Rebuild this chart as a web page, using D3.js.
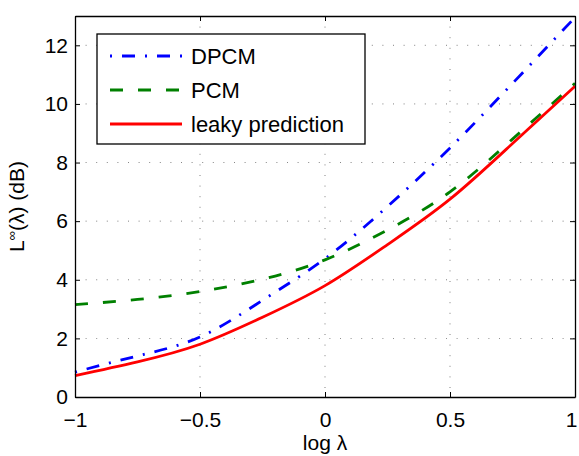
<!DOCTYPE html>
<meta charset="utf-8">
<style>
body { margin: 0; background: #fff; }
svg { font-family: "Liberation Sans", Arial, sans-serif; }
.axis text { font-size: 21px; fill: #000; }
.axis path, .axis line { stroke: #000; }
.grid line { stroke: #000; stroke-width: 0.7px; stroke-dasharray: 1,9.6; opacity: .7; }
.series { fill: none; stroke-width: 2.8px; }
</style>
<body>
<script src="https://cdn.jsdelivr.net/npm/d3@7"></script>
<script>
// values
var logLambda = [-1, -0.75, -0.5, -0.25, 0, 0.25, 0.5, 0.75, 1];
var dpcm  = [0.85, 1.4, 2.05, 3.3, 4.72, 6.5, 8.5, 10.7, 12.95];
var pcm   = [3.15, 3.33, 3.6, 4.02, 4.68, 5.7, 7.0, 8.8, 10.7];
var leaky = [0.73, 1.2, 1.8, 2.72, 3.8, 5.2, 6.75, 8.65, 10.6];
var xTicks = [-1, -0.5, 0, 0.5, 1];
var yTicks = [0, 2, 4, 6, 8, 10, 12];

var series = [
  {name: "DPCM", values: dpcm, color: "#0000ff", dash: "2,10,13,10"},
  {name: "PCM", values: pcm, color: "#008000", dash: "13,15"},
  {name: "leaky prediction", values: leaky, color: "#ff0000", dash: null}
];

var margin = {top: 16, right: 4, bottom: 59, left: 75},
    width = 579 - margin.left - margin.right,
    height = 456 - margin.top - margin.bottom;

var svg = d3.select("body").append("svg")
    .attr("width", 579)
    .attr("height", 456)
  .append("g")
    .attr("transform", "translate(" + margin.left + "," + margin.top + ")");

var x = d3.scaleLinear().domain([-1, 1]).range([0, width]);
var y = d3.scaleLinear().domain([0, 13]).range([height, 0]);

// dotted grid
var grid = svg.append("g").attr("class", "grid");
grid.selectAll(".gx").data(xTicks.slice(1, -1)).enter().append("line")
    .attr("x1", function(d) { return x(d); }).attr("x2", function(d) { return x(d); })
    .attr("y1", 0).attr("y2", height);
grid.selectAll(".gy").data(yTicks.slice(1)).enter().append("line")
    .attr("x1", 0).attr("x2", width)
    .attr("y1", function(d) { return y(d); }).attr("y2", function(d) { return y(d); });

var line = d3.line()
    .x(function(d, i) { return x(logLambda[i]); })
    .y(function(d) { return y(d); })
    .curve(d3.curveNatural);

svg.selectAll(".series")
    .data(series)
  .enter().append("path")
    .attr("class", "series")
    .attr("stroke", function(d) { return d.color; })
    .attr("stroke-dasharray", function(d) { return d.dash; })
    .attr("d", function(d) { return line(d.values); });

// axes, ticks inside like matlab
var xAxis = svg.append("g")
    .attr("class", "axis")
    .attr("transform", "translate(0," + height + ")")
    .call(d3.axisBottom(x).tickValues(xTicks).tickSizeInner(-5).tickSizeOuter(0).tickPadding(15)
      .tickFormat(d3.format("")));
xAxis.selectAll(".tick text").filter(function(d) { return d === 1; }).attr("dx", -4);
svg.append("g")
    .attr("class", "axis")
    .call(d3.axisLeft(y).tickValues(yTicks).tickSizeInner(-5).tickSizeOuter(0).tickPadding(7));
svg.append("g")
    .attr("class", "axis")
    .call(d3.axisTop(x).tickValues(xTicks).tickSizeInner(-5).tickSizeOuter(0).tickFormat(""));
svg.append("g")
    .attr("class", "axis")
    .attr("transform", "translate(" + width + ",0)")
    .call(d3.axisRight(y).tickValues(yTicks).tickSizeInner(-5).tickSizeOuter(0).tickFormat(""));
svg.selectAll(".axis .domain").attr("stroke-width", 1.3);

// axis labels
svg.append("text")
    .attr("x", width / 2)
    .attr("y", height + 53)
    .attr("text-anchor", "middle")
    .style("font-size", "21px")
    .text("log λ");

var yl = svg.append("text")
    .attr("transform", "translate(-51," + (height / 2) + ") rotate(-90)")
    .attr("text-anchor", "middle")
    .style("font-size", "21px");
yl.append("tspan").text("L");
yl.append("tspan").attr("dy", -8).style("font-size", "13px").text("∞");
yl.append("tspan").attr("dy", 8).text("(λ) (dB)");

// legend
var legend = svg.append("g").attr("transform", "translate(22,18)");
legend.append("rect")
    .attr("width", 268).attr("height", 110)
    .attr("fill", "#fff").attr("stroke", "#000").attr("stroke-width", 1.3);
var item = legend.selectAll(".item")
    .data(series)
  .enter().append("g")
    .attr("transform", function(d, i) { return "translate(0," + (22 + i * 34) + ")"; });
item.append("line")
    .attr("x1", 13).attr("x2", 85)
    .attr("stroke", function(d) { return d.color; })
    .attr("stroke-width", 2.8)
    .attr("stroke-dasharray", function(d) { return d.dash; });
item.append("text")
    .attr("x", 94).attr("dy", "0.36em")
    .style("font-size", "22px")
    .text(function(d) { return d.name; });
</script>
